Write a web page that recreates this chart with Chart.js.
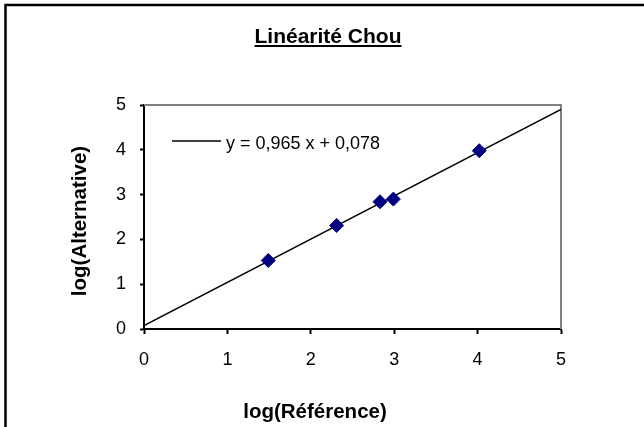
<!DOCTYPE html>
<html>
<head>
<meta charset="utf-8">
<script src="https://cdn.jsdelivr.net/npm/chart.js@4"></script>
<style>
  html, body { margin: 0; padding: 0; background: #fff; }
  #wrap { width: 644px; height: 427px; }
</style>
</head>
<body>
<div id="wrap"><canvas id="myChart" width="644" height="427"></canvas></div>
<script>
const chartTitle = "Linéarité Chou";
const xTitle = "log(Référence)";
const yTitle = "log(Alternative)";
const equationLabel = "y = 0,965 x + 0,078";

// mesures
const refValues = [1.49, 2.31, 2.83, 2.99, 4.02];
const altValues = [1.53, 2.31, 2.84, 2.90, 3.98];

// droite de tendance (extrémités)
const trendX = [0, 5];
const trendY = [0.078, 4.903];

const font = "'Liberation Sans', Arial, sans-serif";

const framePlugin = {
    id: "frame",
    beforeDatasetsDraw(chart) {
        const { ctx, chartArea: a } = chart;
        ctx.save();
        // top + right edge of plot area in grey
        ctx.strokeStyle = "#808080";
        ctx.lineWidth = 2;
        ctx.beginPath();
        ctx.moveTo(a.left, a.top);
        ctx.lineTo(a.right, a.top);
        ctx.lineTo(a.right, a.bottom);
        ctx.stroke();
        ctx.restore();
    },
    afterDraw(chart) {
        const { ctx } = chart;
        ctx.save();
        // outer frame (only left / top visible)
        ctx.strokeStyle = "#000";
        ctx.lineWidth = 2.5;
        ctx.beginPath();
        ctx.moveTo(5.5, 440);
        ctx.lineTo(5.5, 5);
        ctx.lineTo(660, 5);
        ctx.stroke();

        // title, underlined
        ctx.fillStyle = "#000";
        ctx.font = "bold 21px " + font;
        ctx.textAlign = "center";
        ctx.textBaseline = "alphabetic";
        const tx = 328, ty = 43;
        ctx.fillText(chartTitle, tx, ty);
        const w = ctx.measureText(chartTitle).width;
        ctx.fillRect(tx - w / 2, ty + 2, w, 2);

        // axis titles
        ctx.font = "bold 20.5px " + font;
        ctx.textBaseline = "middle";
        ctx.fillText(xTitle, 315, 412);
        ctx.save();
        ctx.translate(80, 221);
        ctx.rotate(-Math.PI / 2);
        ctx.fillText(yTitle, 0, 0);
        ctx.restore();

        // equation "legend"
        ctx.strokeStyle = "#000";
        ctx.lineWidth = 1.3;
        ctx.beginPath();
        ctx.moveTo(172, 141);
        ctx.lineTo(221, 141);
        ctx.stroke();
        ctx.font = "18px " + font;
        ctx.textAlign = "left";
        ctx.fillText(equationLabel, 226, 144);
        ctx.restore();
    },
};

const config = {
    type: "scatter",
    data: {
        datasets: [
            {
                label: "Chou",
                data: refValues.map((x, i) => ({ x: x, y: altValues[i] })),
                pointStyle: "rectRot",
                pointRadius: 7,
                pointHoverRadius: 7,
                backgroundColor: "#000080",
                borderColor: "#000080",
                borderWidth: 1,
                order: 1,
            },
            {
                type: "line",
                label: equationLabel,
                data: trendX.map((x, i) => ({ x: x, y: trendY[i] })),
                borderColor: "#000",
                borderWidth: 1.4,
                pointRadius: 0,
                fill: false,
                order: 2,
            },
        ],
    },
    options: {
        responsive: false,
        animation: false,
        layout: {
            padding: { top: 105, left: 0, right: 83, bottom: 0 },
        },
        plugins: {
            legend: { display: false },
            title: { display: false },
            tooltip: { enabled: false },
        },
        scales: {
            x: {
                type: "linear",
                min: 0,
                max: 5,
                afterFit: (scale) => { scale.height = 98; },
                ticks: {
                    stepSize: 1,
                    color: "#000",
                    font: { family: font, size: 18 },
                    padding: 15,
                },
                grid: {
                    drawOnChartArea: false,
                    tickLength: 5,
                    tickWidth: 2,
                    color: "#000",
                },
                border: { color: "#000", width: 2 },
            },
            y: {
                type: "linear",
                min: 0,
                max: 5,
                afterFit: (scale) => { scale.width = 144; },
                ticks: {
                    stepSize: 1,
                    color: "#000",
                    font: { family: font, size: 18 },
                    padding: 14,
                },
                grid: {
                    drawOnChartArea: false,
                    tickLength: 4,
                    tickWidth: 2,
                    color: "#000",
                },
                border: { color: "#000", width: 2 },
            },
        },
    },
    plugins: [framePlugin],
};

new Chart(document.getElementById("myChart"), config);
</script>
</body>
</html>
